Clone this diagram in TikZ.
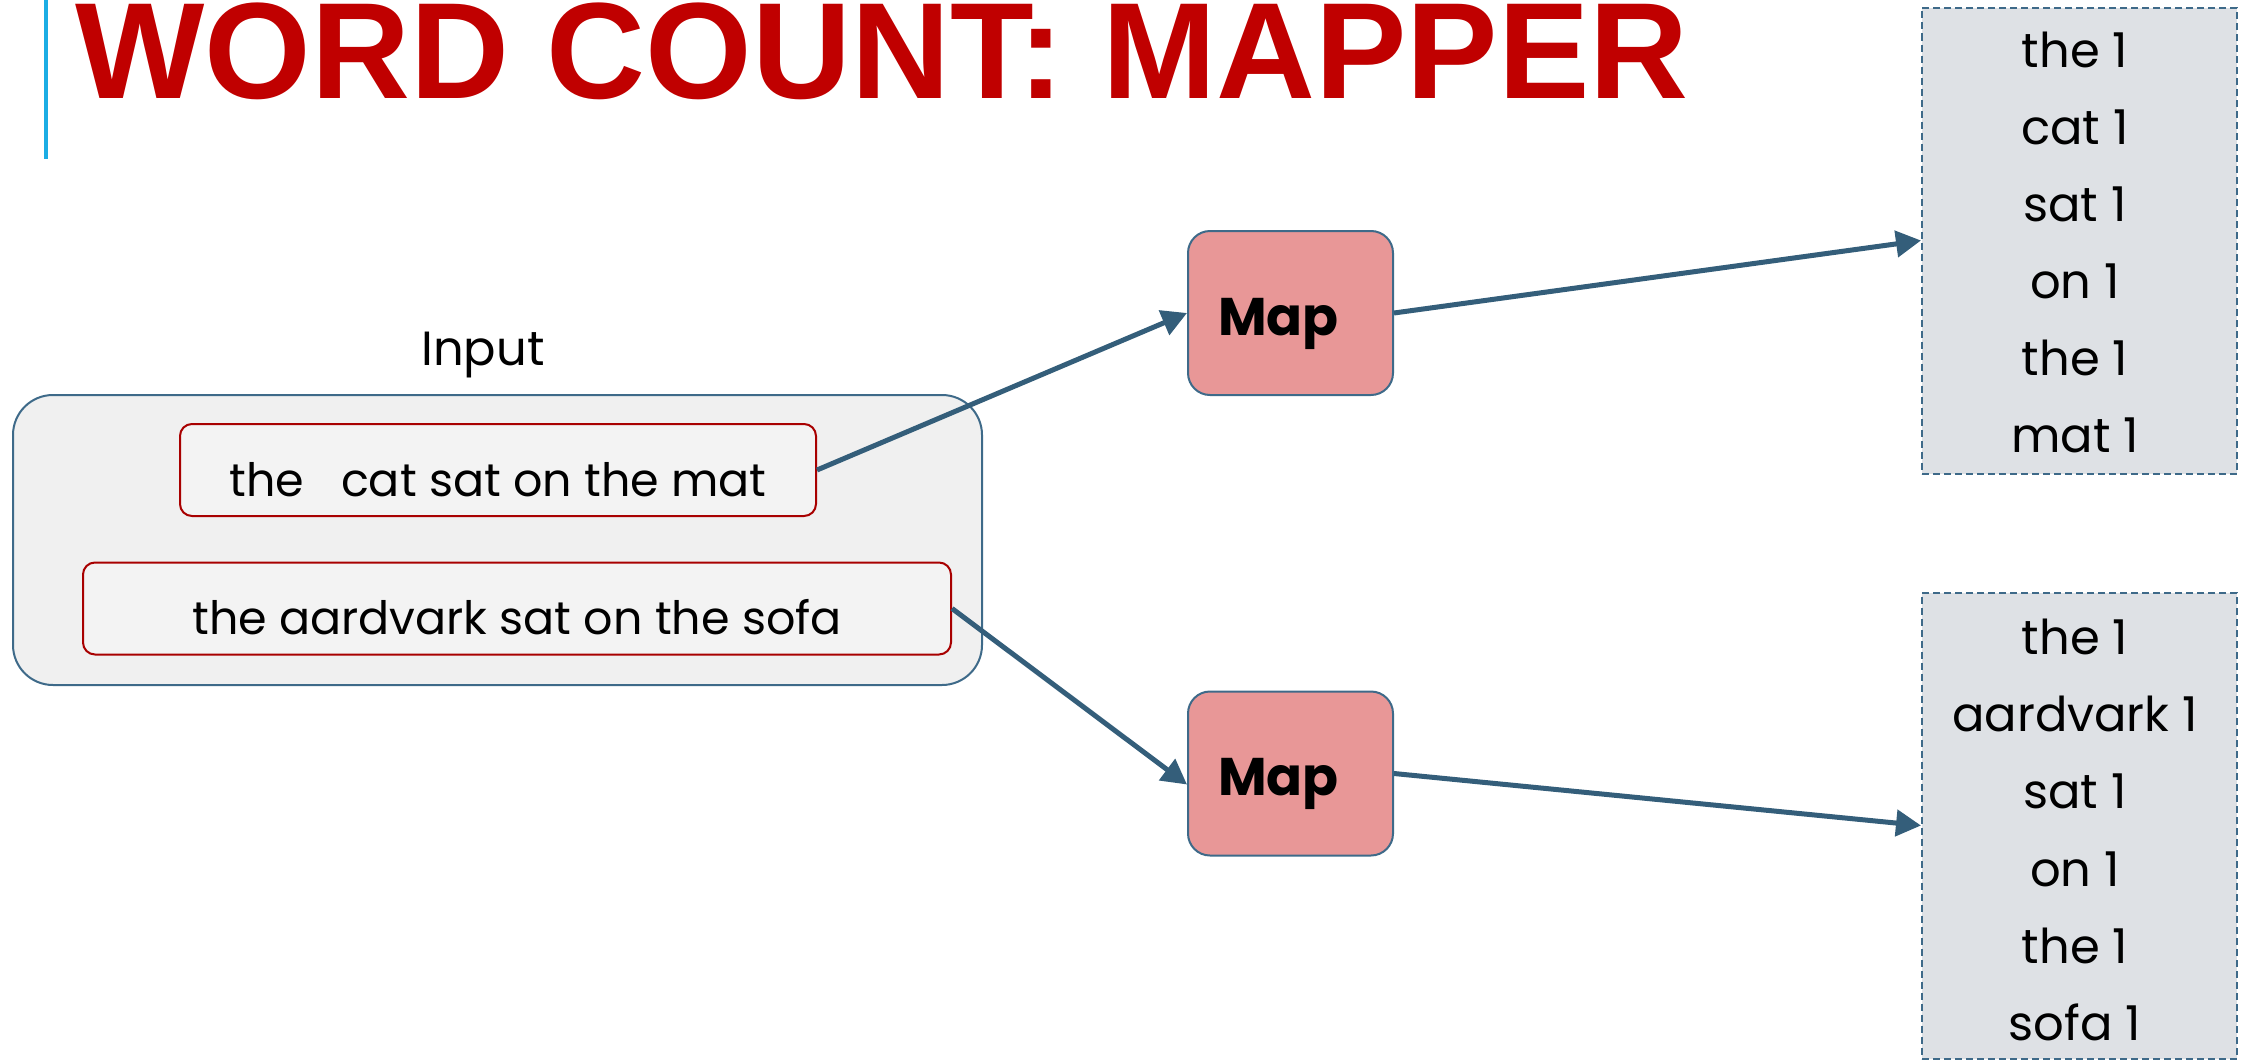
\documentclass[tikz,border=0pt]{standalone}
\usepackage{fontspec}
\setmainfont{Poppins}
\newfontfamily\titlefont{Liberation Sans}
\usetikzlibrary{arrows.meta}

\definecolor{titlered}{HTML}{C00000}
\definecolor{barblue}{HTML}{1CADE4}
\definecolor{edgeblue}{HTML}{3E6A89}
\definecolor{arrowblue}{HTML}{345E7A}
\definecolor{inputgray}{HTML}{F0F0F0}
\definecolor{linegray}{HTML}{F3F3F3}
\definecolor{linered}{HTML}{A80000}
\definecolor{mapred}{HTML}{E89797}
\definecolor{outgray}{HTML}{DEE1E5}

\tikzset{
    inputbox/.style={draw=edgeblue, fill=inputgray, line width=2pt, rounded corners=40pt, minimum width=969pt, minimum height=290pt},
    linebox/.style={draw=linered, fill=linegray, line width=2pt, rounded corners=12pt, minimum height=92pt, inner sep=0pt, text height=52pt, text depth=0pt, font=\fontsize{46pt}{56pt}\selectfont},
    mapbox/.style={draw=edgeblue, fill=mapred, line width=2pt, rounded corners=22pt, minimum height=164pt, inner xsep=30pt, text width=145pt, align=left, text height=44pt, text depth=0pt, font=\fontsize{53pt}{60pt}\selectfont\bfseries},
    outbox/.style={draw=edgeblue, fill=outgray, line width=2pt, dash pattern=on 7pt off 4pt, minimum width=315pt, minimum height=466pt},
    pair/.style={anchor=base, inner sep=0pt, font=\fontsize{48pt}{56pt}\selectfont},
    flow/.style={draw=arrowblue, line width=5pt, -{Triangle[length=25pt,width=26pt]}}
}

\begin{document}
\begin{tikzpicture}[x=1pt, y=-1pt]
        \useasboundingbox (0,0) rectangle (2242,1060);

        %title
        \draw[barblue, line width=4pt] (46,0) -- (46,159);
        \node[anchor=base west, inner sep=0pt, text=titlered, font=\fontsize{137pt}{140pt}\titlefont\bfseries] (title) at (75,98) {WORD COUNT: MAPPER};

        %input
        \node[inputbox] (input) at (497.5,540) {};
        \node[anchor=base, inner sep=0pt, font=\fontsize{48pt}{56pt}\selectfont] (inputlabel) at (483,365) {Input};
        \node[linebox, minimum width=636pt] (line1) at (498,470) {the~~~cat sat on the mat};
        \node[linebox, minimum width=868pt] (line2) at (517,608.5) {the aardvark sat on the sofa};

        %mappers
        \node[mapbox] (map1) at (1290.5,313) {Map};
        \node[mapbox] (map2) at (1290.5,773.5) {Map};

        %output pairs
        \node[outbox] (out1) at (2079.5,240.5) {};
        \node[pair] (o1a) at (2075,67) {the 1};
        \node[pair] (o1b) at (2075,144) {cat 1};
        \node[pair] (o1c) at (2075,221) {sat 1};
        \node[pair] (o1d) at (2075,298) {on 1};
        \node[pair] (o1e) at (2075,375) {the 1};
        \node[pair] (o1f) at (2075,452) {mat 1};

        \node[outbox] (out2) at (2079.5,825.5) {};
        \node[pair] (o2a) at (2075,654) {the 1};
        \node[pair] (o2b) at (2075,731) {aardvark 1};
        \node[pair] (o2c) at (2075,808) {sat 1};
        \node[pair] (o2d) at (2075,886) {on 1};
        \node[pair] (o2e) at (2075,963) {the 1};
        \node[pair] (o2f) at (2075,1040) {sofa 1};

        \draw[flow] (line1.east) -- (map1.west);
        \draw[flow] (map1.east) -- (out1.west);
        \draw[flow] (line2.east) -- ([yshift=-11pt] map2.west);
        \draw[flow] (map2.east) -- (out2.west);
    \end{tikzpicture}
\end{document}
